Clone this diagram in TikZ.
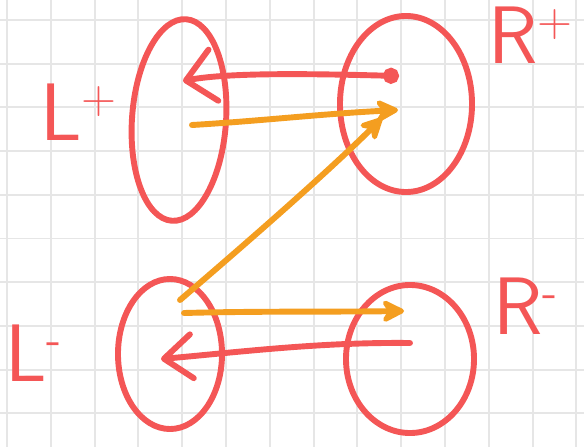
\documentclass[tikz,border=0pt]{standalone}
\usetikzlibrary{shapes.geometric, arrows.meta}

\definecolor{sketchred}{HTML}{F45656}
\definecolor{sketchorange}{HTML}{F49E20}
\definecolor{gridgray}{HTML}{E6E6E6}

\newcommand{\setsign}[1]{\raisebox{0.33em}{\fontsize{34}{34}\selectfont #1}}

\begin{document}
\begin{tikzpicture}[
    x=0.025cm, y=-0.025cm,
    font=\sffamily\fontsize{58}{60}\selectfont,
    gridline/.style={draw=gridgray, line width=1.4pt},
    set/.style={ellipse, draw=sketchred, line width=4.2pt, inner sep=0pt},
    setname/.style={text=sketchred, anchor=base west, inner sep=0pt},
    redarrow/.style={draw=sketchred, line width=4.2pt, line cap=round},
    orangearrow/.style={draw=sketchorange, line width=4.2pt, line cap=round}
]

% Paper
\useasboundingbox[fill=white] (0,0) rectangle (584,447);
\foreach \i in {0,...,13}
    \draw[gridline] ({7+43.8*\i},0) -- ({7+43.8*\i},447);
\foreach \j in {0,...,9}
    \draw[gridline] (0,{20+43.7*\j}) -- (584,{20+43.7*\j});

% Sets
\node[set, minimum width=2.35cm, minimum height=5.05cm, rotate=-4] (lplus) at (179,120) {};
\node[set, minimum width=3.3cm, minimum height=4.4cm] (rplus) at (406,104) {};
\node[set, minimum width=2.6cm, minimum height=3.75cm] (lminus) at (170,354) {};
\node[set, minimum width=3.2cm, minimum height=3.7cm] (rminus) at (410,359) {};

% Names
\node[setname] (lplus-name) at (40,140) {L\setsign{+}};
\node[setname] (rplus-name) at (488,63) {R\setsign{+}};
\node[setname] (lminus-name) at (5,381) {L\setsign{-}};
\node[setname] (rminus-name) at (493,334) {R\setsign{-}};

% Ends of the arrows
\coordinate (rp-top) at (399,76);
\coordinate (lp-top) at (183,81);
\coordinate (lp-low) at (192,125);
\coordinate (rp-low) at (398,110);
\coordinate (lm-top) at (180,300);
\coordinate (rp-mid) at (382,118);
\coordinate (lm-mid) at (184,313);
\coordinate (rm-mid) at (404,311);
\coordinate (rm-low) at (410,343);
\coordinate (lm-low) at (161,359);

% Red arrows
\draw[redarrow, {Circle[length=4mm]}-{Straight Barb[round, length=7mm, width=13mm]}]
    (rp-top) .. controls (320,74) and (230,72) .. (lp-top);
\draw[redarrow, -{Straight Barb[round, length=7mm, width=11mm]}]
    (rm-low) .. controls (320,342) and (240,352) .. (lm-low);

% Orange arrows
\draw[orangearrow, -{Stealth[round, length=7mm, width=7mm]}]
    (lp-low) .. controls (260,121) and (320,114) .. (rp-low);
\draw[orangearrow, -{Stealth[round, length=7mm, width=7mm]}]
    (lm-top) .. controls (250,240) and (330,170) .. (rp-mid);
\draw[orangearrow, -{Stealth[round, length=7mm, width=7mm]}]
    (lm-mid) .. controls (260,311) and (330,312) .. (rm-mid);

\end{tikzpicture}
\end{document}
